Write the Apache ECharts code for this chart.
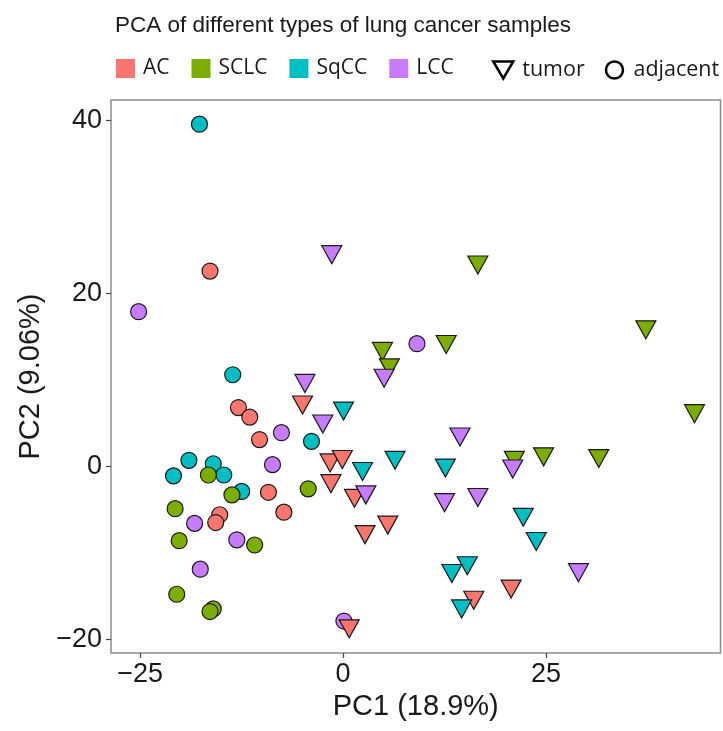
<!DOCTYPE html>
<html><head><meta charset="utf-8">
<script src="https://cdn.jsdelivr.net/npm/echarts@6/dist/echarts.min.js"></script>
<style>html,body{margin:0;padding:0;background:#fff}#c{width:723px;height:731px}</style>
</head><body><div id="c"></div>
<script>
// ---- data ----
const types = ['AC', 'SCLC', 'SqCC', 'LCC'];
const shapes = ['tumor', 'adjacent'];
const xTicks = [-25, 0, 25];
const yTicks = [-20, 0, 20, 40];

const acTumor = [[-5.0,7.1],[-1.6,0.4],[-0.1,0.8],[-1.5,-2.0],[1.4,-3.7],[5.5,-6.8],[2.7,-7.9],[0.75,-18.8],[20.7,-14.2],[16.1,-15.5]];
const acAdjacent = [[-16.4,22.6],[-12.9,6.8],[-11.5,5.7],[-10.3,3.1],[-9.2,-3.0],[-7.3,-5.3],[-15.2,-5.6],[-15.7,-6.5]];
const sclcTumor = [[4.85,13.3],[5.7,11.4],[12.7,14.1],[16.6,23.3],[37.3,15.8],[43.3,6.1],[21.1,0.7],[24.7,1.1],[31.5,0.9]];
const sclcAdjacent = [[-16.6,-1.0],[-4.3,-2.6],[-13.7,-3.3],[-20.7,-4.9],[-20.2,-8.6],[-10.9,-9.1],[-20.5,-14.8],[-16.0,-16.5],[-16.4,-16.8]];
const sqccTumor = [[0.05,6.4],[2.4,-0.6],[6.4,0.7],[12.6,-0.2],[22.2,-5.9],[23.8,-8.7],[15.3,-11.5],[13.4,-12.4],[14.6,-16.5]];
const sqccAdjacent = [[-17.7,39.6],[-13.6,10.6],[-3.9,2.9],[-19.0,0.7],[-16.0,0.3],[-14.7,-1.0],[-20.9,-1.1],[-12.5,-2.9]];
const lccTumor = [[-1.4,24.5],[5.05,10.2],[-4.7,9.6],[-2.5,4.9],[2.8,-3.3],[14.4,3.4],[20.9,-0.3],[12.5,-4.2],[16.6,-3.6],[29.0,-12.3]];
const lccAdjacent = [[-25.2,17.9],[9.1,14.2],[-7.6,3.9],[-8.7,0.2],[-18.3,-6.6],[-13.1,-8.5],[-17.6,-11.9],[0.1,-17.9]];

// ---- styles ----
const palette = {AC:'#F8766D', SCLC:'#7CAE00', SqCC:'#00BFC4', LCC:'#C77CFF'};
const groups = {
  AC: {tumor: acTumor, adjacent: acAdjacent},
  SCLC: {tumor: sclcTumor, adjacent: sclcAdjacent},
  SqCC: {tumor: sqccTumor, adjacent: sqccAdjacent},
  LCC: {tumor: lccTumor, adjacent: lccAdjacent}
};
const tickFont = "'Liberation Sans',Arial,sans-serif";
const minus = v => String(v).replace('-', '\u2212');

const series = [];
// adjacent (circles) first, then tumor (triangles)
['SqCC','SCLC','AC','LCC'].forEach(t => {
  series.push({
    name: t + ' adjacent', type: 'scatter', data: groups[t].adjacent,
    symbol: 'circle', symbolSize: 16,
    itemStyle: {color: palette[t], borderColor: '#1a1a1a', borderWidth: 1.2, opacity: 1}
  });
});
['AC','SCLC','LCC','SqCC'].forEach(t => {
  series.push({
    name: t + ' tumor', type: 'scatter', data: groups[t].tumor,
    symbol: 'triangle', symbolRotate: 180, symbolSize: [20, 18],
    itemStyle: {color: palette[t], borderColor: '#1a1a1a', borderWidth: 1.2, opacity: 1}
  });
});
// legend-only series
types.forEach(t => series.push({name: t, type: 'scatter', data: [], itemStyle: {color: palette[t], opacity: 1}}));
shapes.forEach(s => series.push({name: s, type: 'scatter', data: [], itemStyle: {color: '#fff', opacity: 1}}));

const chart = echarts.init(document.getElementById('c'), null, {renderer: 'canvas'});
chart.setOption({
  animation: false,
  backgroundColor: '#fff',
  title: {
    text: 'PCA of different types of lung cancer samples',
    left: 110, top: 9,
    textStyle: {fontFamily: "'Liberation Sans',Arial,sans-serif", fontSize: 22.5, fontWeight: 'normal', color: '#1a1a1a'}
  },
  legend: [{
    data: types.map(t => ({name: t, itemStyle: {color: palette[t], opacity: 1}})),
    left: 116, top: 58, padding: 0,
    icon: 'rect', itemWidth: 19, itemHeight: 19, itemGap: 22,
    textStyle: {fontFamily: "'Open Sans',sans-serif", fontSize: 21, color: '#1a1a1a', padding: [0, 0, 0, 3]},
    selectedMode: false
  }, {
    data: [
      {name: 'tumor', icon: 'path://M0,0L20,0L10,17Z', itemStyle: {color: '#fff', borderColor: '#000', borderWidth: 2.5, opacity: 1}},
      {name: 'adjacent', icon: 'circle', itemStyle: {color: '#fff', borderColor: '#000', borderWidth: 2.5, opacity: 1}}
    ],
    left: 492, top: 59, padding: 0,
    itemWidth: 20, itemHeight: 17, itemGap: 20,
    textStyle: {fontFamily: "'Open Sans',sans-serif", fontSize: 21.5, color: '#1a1a1a', padding: [0, 0, 0, 4]},
    selectedMode: false
  }],
  grid: {left: 111, right: 2.5, top: 100, bottom: 78, show: true, borderColor: '#8c8c8c', borderWidth: 1.5, containLabel: false},
  xAxis: {
    type: 'value', min: -28.6, max: 46.5,
    name: 'PC1 (18.9%)', nameLocation: 'middle', nameGap: 36,
    nameTextStyle: {fontFamily: tickFont, fontSize: 29, color: '#1a1a1a'},
    axisLine: {show: false, onZero: false},
    axisTick: {show: true, length: 5, customValues: xTicks, lineStyle: {color: '#444', width: 1.2}},
    axisLabel: {customValues: xTicks, formatter: minus, margin: 8, fontFamily: tickFont, fontSize: 27, color: '#1a1a1a'},
    splitLine: {show: false}
  },
  yAxis: {
    type: 'value', min: -21.6, max: 42.4,
    name: 'PC2 (9.06%)', nameLocation: 'middle', nameGap: 62,
    nameTextStyle: {fontFamily: tickFont, fontSize: 29, color: '#1a1a1a'},
    axisLine: {show: false, onZero: false},
    axisTick: {show: true, length: 5, customValues: yTicks, lineStyle: {color: '#444', width: 1.2}},
    axisLabel: {customValues: yTicks, formatter: minus, margin: 9, fontFamily: tickFont, fontSize: 27, color: '#1a1a1a'},
    splitLine: {show: false}
  },
  series: series
});
</script>
</body></html>
